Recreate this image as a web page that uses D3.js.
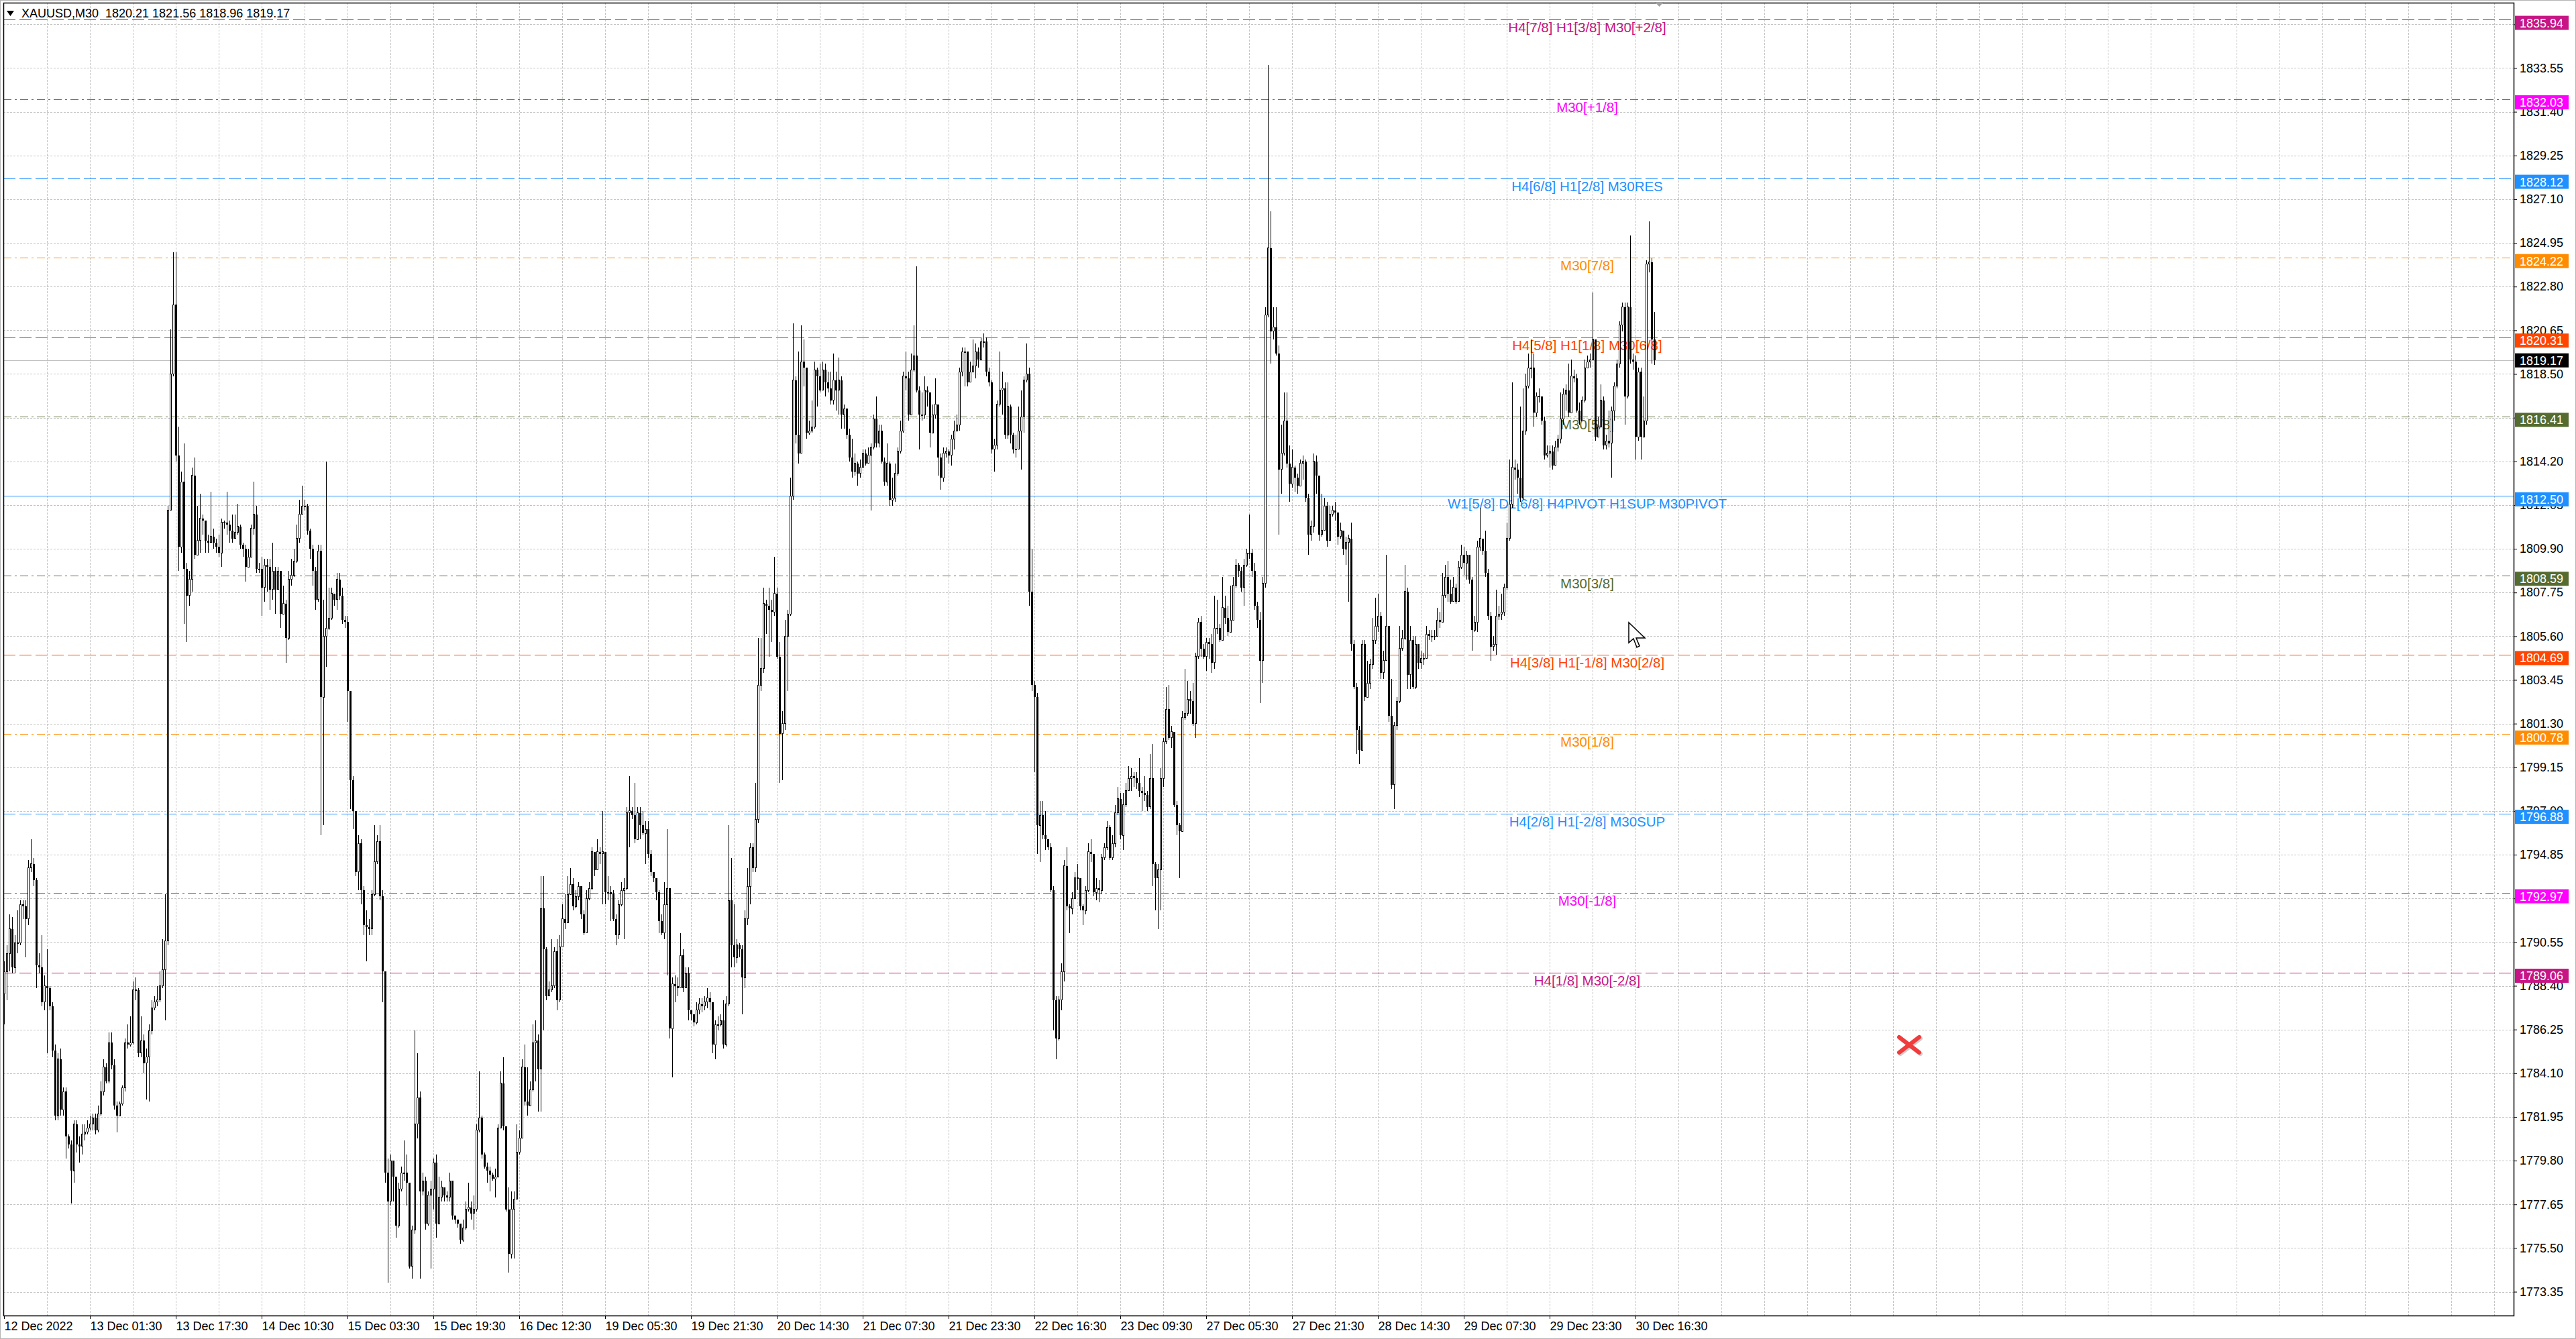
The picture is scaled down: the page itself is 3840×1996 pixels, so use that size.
<!DOCTYPE html>
<html>
<head>
<meta charset="utf-8">
<script src="https://cdn.jsdelivr.net/npm/d3@7"></script>
<style>
    body { margin: 0; background: #ffffff; overflow: hidden; }
    text { font-family: "Liberation Sans", Arial, sans-serif; }
</style>
</head>
<body>
<svg id="chart" width="3840" height="1996"></svg>
<script>
var symbol = "XAUUSD,M30";
var firstOpen = 1788.0;

// M30 candles, 12 Dec 2022 .. 30 Dec 2022
var closes = [
    1789.1,1790.0,1791.2,1789.3,1790.5,1790.5,1792.4,1792.3,1791.7,1794.2,
    1794.4,1793.6,1789.4,1789.3,1787.6,1788.4,1788.3,1787.4,1785.2,1782.0,
    1784.8,1782.3,1783.2,1781.0,1780.6,1779.3,1781.6,1780.6,1780.5,1781.1,
    1781.2,1781.4,1781.6,1781.9,1781.3,1782.1,1783.2,1784.4,1783.7,1785.6,
    1784.5,1782.5,1782.0,1782.6,1783.4,1785.6,1785.5,1785.6,1788.2,1788.2,
    1785.1,1785.7,1784.6,1784.9,1786.2,1787.3,1787.6,1787.7,1788.4,1789.2,
    1790.6,1811.8,1818.5,1821.9,1814.5,1810.0,1813.2,1808.9,1807.6,1808.4,
    1813.5,1809.6,1810.3,1811.4,1811.3,1810.3,1810.2,1810.5,1810.2,1810.0,
    1809.7,1811.2,1811.2,1811.1,1810.8,1810.4,1810.7,1811.0,1810.1,1809.9,
    1809.0,1809.5,1810.9,1811.6,1808.9,1808.9,1808.0,1809.1,1809.0,1807.9,
    1808.8,1807.9,1808.8,1806.7,1807.2,1805.5,1808.4,1808.6,1809.3,1810.4,
    1811.6,1812.0,1812.0,1810.8,1809.9,1808.8,1807.4,1809.8,1802.6,1805.6,
    1806.0,1806.5,1807.7,1807.4,1808.4,1807.6,1806.4,1806.3,1802.9,1798.5,
    1797.0,1794.0,1795.4,1793.1,1791.4,1791.3,1791.2,1792.9,1794.5,1795.5,
    1792.8,1789.1,1779.2,1777.8,1779.8,1779.0,1776.6,1778.4,1779.2,1779.2,
    1778.7,1774.6,1776.4,1781.6,1782.9,1778.3,1778.8,1776.7,1778.1,
    1778.4,1779.7,1776.7,1778.0,1778.5,1778.1,1778.0,1778.8,1777.1,1776.9,
    1776.7,1775.9,1776.5,1777.4,1777.5,1777.2,1777.4,1781.3,1781.9,1780.1,
    1779.5,1779.3,1779.1,1778.9,1779.0,1781.4,1783.6,1781.5,1777.4,1775.2,
    1777.4,1777.9,1780.2,1780.9,1784.4,1782.7,1782.5,1783.3,1785.6,1785.7,
    1784.3,1792.2,1790.2,1787.9,1788.2,1788.4,1790.1,1787.7,1790.3,1791.7,
    1791.5,1792.9,1793.4,1792.3,1792.8,1793.3,1791.9,1791.0,1792.7,1793.2,
    1795.0,1794.1,1795.0,1794.9,1795.0,1793.0,1793.0,1792.9,1791.7,1790.9,
    1792.4,1793.1,1793.2,1796.9,1797.0,1796.8,1795.6,1796.9,1796.3,1795.9,
    1796.1,1794.9,1794.0,1793.7,1793.0,1791.6,1791.0,1792.4,1793.2,1786.3,
    1788.5,1788.4,1788.3,1789.9,1788.3,1789.0,1787.2,1787.0,1786.6,1787.2,
    1787.5,1787.4,1787.6,1787.8,1787.6,1785.5,1786.5,1786.5,1786.7,1785.5,
    1787.5,1792.6,1790.4,1789.8,1790.4,1790.2,1788.8,1791.7,1793.3,1795.2,
    1794.2,1796.6,1803.2,1804.0,1807.2,1807.1,1806.9,1806.8,1807.7,1804.6,
    1800.8,1801.3,1805.6,1806.7,1812.5,1818.2,1815.5,1814.6,1819.1,1818.8,
    1815.6,1815.7,1815.9,1818.7,1818.4,1817.7,1818.7,1818.1,1817.8,1817.2,
    1818.2,1817.7,1818.2,1816.5,1816.8,
    1815.5,1814.4,1813.7,1814.1,1813.6,1813.9,1814.6,1814.1,1814.5,1814.9,
    1816.3,1815.1,1815.7,1814.2,1813.2,1814.1,1812.3,1812.4,1813.6,1814.7,
    1815.7,1818.4,1818.3,1816.5,1818.7,1819.4,1817.7,1816.5,1816.5,1817.7,
    1817.6,1815.6,1816.5,1817.0,1814.4,1813.4,1814.6,1814.7,1814.5,1815.3,
    1815.7,1816.0,1818.6,1819.6,1819.6,1818.1,1818.6,1818.9,1819.6,1819.2,
    1820.1,1820.1,1818.6,1818.1,1814.8,1815.0,1817.0,1817.7,1817.8,1815.5,
    1816.9,1815.5,1814.8,1814.8,1815.7,1816.4,1818.2,1818.5,1807.8,1803.2,
    1802.6,1796.3,1796.8,1795.8,1795.6,1795.2,1793.1,1787.7,1785.8,1787.7,
    1789.1,1794.3,1792.3,1792.2,1792.7,1793.7,1793.7,1792.3,1792.1,1793.1,
    1795.0,1794.9,1793.0,1793.2,1793.1,1794.7,1795.2,1796.2,1794.7,1795.4,
    1796.9,1797.6,1795.8,1797.3,1798.0,1798.6,1798.7,1798.6,1798.4,1798.0,
    1797.9,1797.8,1797.2,1798.6,1794.4,1793.7,1794.1,1798.6,1800.4,1802.0,
    1800.6,1800.9,1797.3,1796.3,1796.0,1801.6,1801.8,1802.5,1802.4,1801.3,
    1804.6,1806.3,1805.0,1804.6,1805.3,1805.2,1804.3,1806.0,1806.0,1805.4,
    1807.0,1806.5,1805.8,1806.4,1808.1,1809.1,1808.8,1808.0,1809.1,1809.7,
    1809.7,1808.8,1807.1,1806.4,
    1804.4,1808.2,1821.4,1824.7,1820.6,1820.8,1819.5,1813.8,1814.6,1816.2,
    1814.1,1813.1,1813.9,1813.4,1813.0,1814.1,1814.2,1812.4,1810.6,1811.0,
    1814.2,1813.5,1810.6,1810.8,1812.0,1810.3,1811.6,1811.8,1811.7,1810.5,
    1810.8,1809.9,1810.2,1810.4,1805.2,1803.1,1801.0,1800.0,1805.2,1802.6,
    1803.3,1804.2,1805.4,1806.1,1806.6,1803.8,1804.4,1806.1,1801.7,1798.3,
    1801.2,1802.4,1805.0,1805.5,1807.8,1803.7,1805.4,1803.1,1805.2,1804.3,
    1804.5,1804.5,1805.7,1805.6,1805.6,1805.6,1806.4,1806.3,1807.6,1808.5,
    1807.7,1807.3,1808.0,1807.3,1809.0,1809.6,1809.2,1809.6,1808.4,1805.9,
    1806.3,1810.0,1810.4,1809.8,1808.7,1806.6,1805.1,1805.2,1806.6,1806.7,
    1806.8,1808.0,1810.4,1812.1,1813.9,1813.8,1813.4,1812.4,1815.7,1817.9,
    1818.8,1818.8,1816.6,1817.4,1817.4,1816.2,1814.5,1814.6,1814.7,1814.0,
    1814.9,1815.3,1816.3,1817.5,1817.7,1816.6,1818.4,1818.3,1816.7,1816.2,
    1817.2,1818.8,1819.1,1819.2,1820.2,1815.4,1815.9,1817.2,1815.0,1815.2,
    1815.1,1816.7,1817.9,1819.0,1820.9,1821.8,1817.4,1821.8,1819.2,1819.1,
    1815.4,1818.6,1815.4,1816.2,1823.9,1824.0,1820.21,1819.17
];

var highs = [
    1789.6,1790.4,1791.9,1791.8,1790.9,1792.1,1792.6,1792.6,1792.6,1794.6,
    1795.6,1794.7,1793.7,1790.0,1790.9,1788.9,1790.2,1788.4,1787.6,1785.5,
    1785.1,1785.3,1783.4,1783.4,1781.1,1780.8,1781.8,1781.8,1781.0,1781.6,
    1781.6,1781.8,1782.0,1782.1,1782.1,1782.5,1783.7,1784.8,1784.6,1786.1,
    1786.1,1784.8,1782.7,1782.7,1783.5,1785.8,1786.5,1786.9,1788.6,1788.8,
    1788.3,1786.9,1786.0,1785.3,1786.5,1787.7,1787.9,1788.4,1789.1,1790.7,
    1792.9,1812.0,1820.7,1824.5,1824.5,1815.9,1813.7,1815.1,1809.2,1808.8,
    1813.9,1814.4,1812.0,1812.6,1811.6,1811.3,1810.6,1812.7,1810.9,1810.4,
    1810.6,1811.4,1811.3,1812.7,1811.3,1811.6,1811.6,1812.1,1811.1,1810.2,
    1810.1,1809.9,1811.1,1813.2,1812.0,1809.2,1809.5,1809.4,1809.4,1809.4,
    1810.2,1809.0,1809.0,1808.8,1808.1,1807.4,1808.8,1809.4,1809.9,1811.1,
    1812.3,1813.0,1812.3,1812.1,1810.9,1810.1,1809.0,1810.1,1810.1,1807.4,
    1814.2,1808.0,1808.0,1807.6,1808.7,1808.7,1808.0,1806.6,1806.6,1802.9,
    1798.7,1797.0,1795.8,1795.6,1793.3,1792.1,1791.7,1793.1,1796.3,1795.8,
    1796.3,1793.1,1789.1,1779.9,1780.1,1779.5,1778.5,1778.7,1779.5,1780.8,
    1780.1,1778.3,1776.6,1786.2,1785.1,1783.2,1779.2,1779.0,1778.3,
    1778.8,1779.9,1780.1,1779.0,1778.8,1778.5,1778.3,1779.2,1778.1,1777.1,
    1776.9,1776.7,1776.9,1777.8,1778.7,1777.8,1778.1,1781.6,1784.2,1782.0,
    1780.2,1779.7,1779.5,1779.2,1779.4,1781.6,1784.2,1784.9,1781.5,1778.5,
    1778.3,1778.3,1781.6,1781.3,1784.8,1785.5,1784.4,1783.7,1786.5,1786.7,
    1786.0,1793.8,1793.8,1790.3,1788.6,1790.7,1790.3,1790.7,1790.9,1792.4,
    1792.9,1793.8,1794.2,1793.7,1793.1,1793.5,1792.9,1792.1,1793.1,1793.5,
    1795.2,1794.6,1795.6,1795.2,1797.0,1794.9,1793.8,1793.3,1793.1,1791.9,
    1792.6,1793.5,1793.7,1797.2,1798.7,1797.2,1798.4,1797.2,1797.2,1797.0,
    1796.5,1796.5,1795.1,1794.0,1793.7,1793.1,1791.9,1793.5,1796.1,1793.1,
    1788.8,1788.9,1788.8,1791.0,1790.2,1789.3,1789.3,1787.2,1787.0,1787.6,
    1787.8,1787.8,1787.9,1788.3,1788.1,1787.4,1786.7,1786.9,1787.0,1787.7,
    1787.9,1796.3,1794.7,1792.4,1790.7,1790.5,1790.4,1792.1,1794.2,1795.4,
    1795.4,1798.4,1805.5,1805.5,1808.0,1807.4,1808.0,1807.4,1809.5,1808.0,
    1805.3,1801.9,1806.4,1806.9,1813.4,1821.0,1818.4,1819.6,1820.9,1820.2,
    1818.2,1816.2,1817.2,1819.1,1818.8,1819.0,1819.1,1819.0,1818.6,1818.6,
    1819.5,1818.6,1819.3,1818.4,1817.0,
    1816.7,1815.8,1815.3,1814.6,1814.2,1814.3,1814.8,1814.8,1814.9,1815.1,
    1816.5,1817.4,1816.0,1816.0,1814.4,1815.1,1814.2,1813.4,1814.1,1814.9,
    1816.2,1818.6,1819.6,1818.6,1819.5,1820.9,1823.8,1817.9,1817.6,1818.4,
    1817.9,1817.0,1817.0,1818.3,1816.2,1814.6,1814.9,1814.9,1814.8,1815.5,
    1816.2,1816.5,1818.8,1819.8,1819.8,1819.6,1819.1,1820.2,1820.0,1819.8,
    1820.3,1820.5,1820.3,1818.8,1818.2,1815.3,1817.2,1819.6,1818.6,1818.1,
    1818.1,1817.0,1815.6,1815.5,1816.9,1817.7,1818.4,1820.0,1818.8,1809.9,
    1803.4,1802.8,1797.5,1797.5,1797.0,1795.6,1795.4,1793.3,1787.9,1787.9,
    1789.5,1794.6,1795.2,1792.4,1793.0,1794.0,1794.4,1793.7,1792.4,1793.3,
    1795.4,1795.6,1794.4,1793.7,1793.6,1794.9,1795.4,1796.5,1796.3,1795.8,
    1797.3,1798.2,1797.9,1797.9,1798.4,1799.2,1799.1,1798.9,1798.9,1799.6,
    1798.2,1798.7,1798.0,1799.8,1800.3,1794.5,1794.4,1799.1,1800.6,1803.1,
    1803.2,1801.2,1800.5,1797.5,1796.4,1801.9,1804.0,1803.4,1802.9,1803.3,
    1804.8,1806.5,1806.6,1805.2,1805.5,1805.5,1805.7,1807.6,1807.4,1806.2,
    1808.5,1807.6,1807.1,1808.1,1808.5,1809.4,1809.2,1809.0,1809.4,1809.9,
    1811.6,1809.9,1809.2,1807.3,
    1806.8,1808.5,1821.8,1833.7,1826.5,1821.8,1821.8,1819.9,1816.0,1817.6,
    1817.6,1815.0,1814.8,1814.0,1813.6,1814.3,1814.5,1814.3,1812.6,1811.3,
    1814.6,1814.5,1813.4,1812.6,1812.4,1812.2,1812.0,1812.0,1812.2,1811.7,
    1811.2,1810.6,1810.5,1810.6,1811.2,1805.4,1803.3,1801.2,1805.4,1805.4,
    1804.4,1804.5,1806.5,1807.5,1807.7,1806.8,1804.9,1809.6,1805.7,1803.5,
    1801.4,1802.6,1806.1,1805.9,1809.1,1808.0,1806.1,1805.6,1805.6,1805.1,
    1804.9,1804.8,1806.1,1805.9,1805.9,1805.9,1807.0,1806.8,1808.7,1809.1,
    1809.3,1808.4,1808.5,1808.2,1809.3,1810.1,1810.0,1809.8,1809.6,1808.5,
    1806.6,1810.3,1811.9,1810.3,1810.8,1808.9,1806.8,1805.6,1807.9,1807.1,
    1807.7,1808.2,1811.2,1814.3,1818.1,1814.3,1814.1,1816.9,1817.8,1818.5,
    1819.5,1820.2,1819.5,1817.6,1817.8,1817.4,1816.4,1815.0,1815.0,1815.0,
    1815.2,1815.5,1817.6,1817.8,1818.0,1819.0,1819.2,1818.7,1818.5,1817.1,
    1817.4,1819.2,1819.4,1819.5,1822.5,1819.7,1816.4,1818.0,1817.4,1815.5,
    1816.7,1816.9,1818.1,1819.2,1821.1,1822.0,1822.0,1822.0,1825.3,1819.5,
    1819.4,1818.8,1818.8,1817.4,1824.1,1826.0,1824.2,1821.56
];

var lows = [
    1786.5,1787.7,1789.1,1789.0,1789.0,1790.0,1790.4,1791.7,1789.8,1791.4,
    1794.0,1793.3,1788.3,1789.0,1787.4,1787.2,1785.1,1787.2,1784.9,1781.8,
    1781.8,1782.0,1782.0,1779.9,1780.4,1777.7,1778.7,1780.2,1779.7,1780.1,
    1780.8,1781.1,1781.3,1781.3,1781.1,1781.2,1782.0,1783.0,1783.6,1783.6,
    1784.3,1782.3,1781.2,1782.0,1782.5,1783.2,1785.3,1785.4,1785.5,1787.7,
    1784.9,1784.9,1784.1,1782.8,1782.7,1786.0,1787.2,1787.4,1787.6,1788.3,
    1786.7,1790.4,1812.0,1818.4,1814.2,1808.8,1809.7,1806.2,1805.3,1807.1,
    1807.8,1809.4,1809.7,1809.7,1810.6,1809.7,1809.7,1810.2,1809.9,1809.7,
    1809.5,1809.0,1810.9,1810.6,1810.2,1810.2,1810.5,1810.6,1809.9,1809.5,
    1808.3,1809.2,1809.6,1810.6,1808.7,1808.7,1806.6,1807.3,1807.8,1806.9,
    1807.4,1806.7,1808.5,1806.0,1806.7,1804.3,1805.4,1808.1,1808.5,1809.2,
    1810.2,1811.6,1811.8,1810.6,1809.4,1808.1,1806.9,1807.3,1795.8,1796.3,
    1804.1,1805.9,1806.4,1807.1,1806.9,1807.4,1806.2,1806.0,1801.4,1797.1,
    1796.1,1793.8,1793.1,1792.4,1790.9,1789.6,1790.9,1790.9,1792.8,1794.4,
    1792.6,1787.6,1778.7,1773.8,1777.6,1777.8,1776.0,1776.5,1778.3,1778.8,
    1777.6,1774.5,1774.0,1776.2,1780.9,1774.0,1778.1,1776.4,1776.6,
    1774.5,1777.4,1776.0,1776.7,1777.8,1777.8,1777.8,1777.8,1776.9,1776.7,
    1776.5,1775.7,1775.8,1776.4,1777.3,1776.9,1776.4,1777.3,1781.2,1779.9,
    1779.4,1778.7,1778.3,1778.8,1778.0,1779.1,1781.4,1781.3,1777.3,1774.3,
    1775.0,1775.0,1778.1,1780.1,1780.9,1782.5,1782.0,1782.6,1783.2,1783.7,
    1782.2,1782.2,1786.2,1787.7,1787.9,1788.1,1788.3,1787.2,1787.6,1790.4,
    1791.2,1791.7,1792.9,1792.1,1792.2,1792.6,1791.7,1790.9,1791.0,1792.6,
    1793.1,1793.8,1794.6,1794.4,1792.4,1792.4,1792.6,1791.6,1791.6,1790.4,
    1790.7,1792.3,1790.7,1793.1,1795.2,1796.6,1795.4,1796.6,1795.6,1795.8,
    1794.4,1794.7,1793.8,1793.5,1792.6,1791.0,1790.9,1790.7,1788.9,1785.8,
    1783.9,1787.6,1787.9,1788.4,1788.1,1788.3,1786.7,1786.7,1786.4,1786.5,
    1787.0,1787.1,1787.2,1787.3,1787.2,1785.1,1784.8,1786.2,1786.4,1785.3,
    1785.4,1787.4,1789.3,1789.3,1789.5,1789.8,1787.0,1788.3,1791.4,1792.4,
    1794.0,1794.0,1796.4,1802.9,1803.8,1805.7,1804.6,1805.3,1806.6,1804.5,
    1798.4,1798.5,1801.0,1802.9,1806.6,1812.3,1815.1,1814.1,1815.1,1817.9,
    1815.3,1815.5,1815.6,1815.8,1816.9,1817.6,1818.4,1817.4,1817.6,1817.0,
    1817.0,1816.7,1816.5,1815.8,1815.8,
    1815.3,1814.2,1813.4,1813.5,1813.0,1813.4,1813.9,1814.0,1814.1,1811.8,
    1814.8,1814.9,1814.9,1814.1,1813.0,1813.0,1812.0,1812.0,1812.2,1813.5,
    1814.6,1815.6,1817.7,1816.2,1816.5,1818.6,1817.6,1814.8,1816.2,1816.3,
    1816.9,1814.9,1815.8,1816.3,1813.5,1812.8,1813.2,1814.4,1814.1,1814.0,
    1814.8,1815.8,1815.7,1818.4,1817.9,1817.9,1818.3,1818.6,1818.3,1818.8,
    1819.5,1819.8,1818.4,1817.9,1814.6,1813.7,1814.8,1816.9,1816.5,1815.3,
    1815.3,1815.1,1814.6,1814.4,1814.8,1813.8,1815.6,1818.1,1807.1,1802.9,
    1798.9,1794.9,1794.5,1795.6,1795.1,1795.1,1793.0,1786.2,1784.8,1785.7,
    1787.2,1788.6,1792.1,1791.0,1791.9,1792.8,1793.1,1792.1,1791.4,1791.9,
    1793.0,1794.5,1792.8,1792.6,1792.5,1792.9,1794.6,1795.1,1794.6,1794.6,
    1795.2,1796.8,1795.6,1795.1,1797.2,1798.4,1798.0,1798.2,1798.1,1797.7,
    1797.0,1797.5,1797.0,1797.1,1793.3,1792.1,1791.2,1792.1,1798.2,1800.3,
    1800.5,1800.1,1797.2,1795.8,1793.7,1800.3,1801.5,1801.7,1801.8,1801.2,
    1800.6,1804.5,1804.6,1804.5,1803.9,1804.5,1803.8,1804.0,1805.7,1805.3,
    1805.9,1806.2,1805.6,1806.2,1806.4,1808.0,1808.5,1807.8,1807.1,1809.0,
    1809.4,1808.5,1806.9,1806.0,
    1802.3,1803.3,1808.0,1821.3,1819.0,1820.2,1819.4,1810.6,1812.6,1814.5,
    1813.9,1812.2,1812.9,1812.7,1812.6,1813.1,1813.3,1812.2,1809.6,1810.3,
    1810.7,1812.6,1810.3,1810.5,1811.0,1810.0,1811.2,1811.5,1811.3,1810.1,
    1810.4,1809.6,1809.1,1807.3,1804.9,1803.0,1799.8,1799.3,1800.0,1802.4,
    1802.6,1803.0,1804.0,1805.2,1805.8,1803.5,1803.5,1804.4,1801.4,1798.1,
    1797.1,1801.0,1802.3,1804.9,1805.4,1803.0,1803.0,1803.0,1803.0,1804.0,
    1804.0,1804.2,1804.5,1805.4,1805.3,1805.4,1805.6,1806.0,1806.3,1807.5,
    1807.3,1807.2,1807.5,1807.2,1807.3,1808.9,1808.6,1808.4,1808.2,1804.9,
    1805.8,1805.8,1809.8,1809.6,1808.5,1806.4,1804.4,1804.9,1804.7,1806.4,
    1806.4,1806.6,1807.9,1810.3,1811.9,1813.3,1812.6,1812.2,1812.3,1815.5,
    1817.8,1818.3,1815.9,1816.4,1817.1,1816.0,1814.3,1814.4,1813.9,1813.8,
    1814.6,1814.7,1815.1,1816.0,1816.7,1816.4,1817.6,1818.1,1816.6,1816.0,
    1816.2,1817.1,1818.8,1818.8,1819.2,1815.2,1815.5,1816.2,1814.8,1814.8,
    1814.9,1813.4,1816.2,1817.8,1818.8,1820.6,1816.0,1817.3,1819.0,1818.7,
    1814.3,1815.2,1814.3,1815.4,1816.0,1823.5,1819.0,1818.96
];

var barsPerLabel = 32;
var timeLabels = [
    "12 Dec 2022", "13 Dec 01:30", "13 Dec 17:30", "14 Dec 10:30", "15 Dec 03:30",
    "15 Dec 19:30", "16 Dec 12:30", "19 Dec 05:30", "19 Dec 21:30", "20 Dec 14:30",
    "21 Dec 07:30", "21 Dec 23:30", "22 Dec 16:30", "23 Dec 09:30", "27 Dec 05:30",
    "27 Dec 21:30", "28 Dec 14:30", "29 Dec 07:30", "29 Dec 23:30", "30 Dec 16:30"
];

var priceTicks = [
    1773.35, 1775.50, 1777.65, 1779.80, 1781.95, 1784.10, 1786.25, 1788.40, 1790.55, 1792.70,
    1794.85, 1797.00, 1799.15, 1801.30, 1803.45, 1805.60, 1807.75, 1809.90, 1812.05, 1814.20,
    1816.35, 1818.50, 1820.65, 1822.80, 1824.95, 1827.10, 1829.25, 1831.40, 1833.55, 1835.70
];

// murrey math levels
var levelPrices = [1835.94, 1832.03, 1828.12, 1824.22, 1820.31, 1816.41, 1812.50,
                   1808.59, 1804.69, 1800.78, 1796.88, 1792.97, 1789.06];
var levelNames = [
    "H4[7/8] H1[3/8] M30[+2/8]",
    "M30[+1/8]",
    "H4[6/8] H1[2/8] M30RES",
    "M30[7/8]",
    "H4[5/8] H1[1/8] M30[6/8]",
    "M30[5/8]",
    "W1[5/8] D1[6/8] H4PIVOT H1SUP M30PIVOT",
    "M30[3/8]",
    "H4[3/8] H1[-1/8] M30[2/8]",
    "M30[1/8]",
    "H4[2/8] H1[-2/8] M30SUP",
    "M30[-1/8]",
    "H4[1/8] M30[-2/8]"
];

// look of each level line, same order as levelPrices
var levelColors = ["#c71585", "#ff00ff", "#1e90ff", "#ff8c00", "#ff4500", "#556b2f", "#1e90ff",
                   "#556b2f", "#ff4500", "#ff8c00", "#1e90ff", "#ff00ff", "#c71585"];
var levelDash = ["18,6", "12,5,3,5", "18,6", "12,5,3,5", "18,6", "12,5,3,5", null,
                 "12,5,3,5", "18,6", "12,5,3,5", "18,6", "12,5,3,5", "18,6"];

var W = 3840, H = 1996;
var plotL = 5, plotT = 4, plotR = 3747, plotB = 1961;
var svg = d3.select("#chart");

var x = d3.scaleLinear().domain([0, (plotR - 6) / 4]).range([6, plotR]);
var y = d3.scaleLinear().domain([1772.18, 1836.767]).range([plotB, plotT]);

var bars = closes.map(function (c, i) {
    var o = i === 0 ? firstOpen : closes[i - 1];
    return {i: i, o: o, c: c, h: Math.max(highs[i], o, c), l: Math.min(lows[i], o, c)};
});

// window frame
svg.append("rect").attr("x", 0.5).attr("y", 0.5).attr("width", W - 1).attr("height", H - 1)
    .attr("fill", "#ffffff").attr("stroke", "#b4b4b4");

// grid
var grid = svg.append("g").attr("stroke", "#c4c4c4").attr("stroke-dasharray", "3,2");
grid.selectAll("line.h").data(priceTicks).enter().append("line")
    .attr("x1", plotL).attr("x2", plotR)
    .attr("y1", function (d) { return Math.round(y(d)) + 0.5; })
    .attr("y2", function (d) { return Math.round(y(d)) + 0.5; });
grid.selectAll("line.v").data(d3.range(16, (plotR - 6) / 4, 16)).enter().append("line")
    .attr("y1", plotT).attr("y2", plotB)
    .attr("x1", function (d) { return Math.round(x(d)) + 0.5; })
    .attr("x2", function (d) { return Math.round(x(d)) + 0.5; });

// level lines and their names
var lv = svg.append("g");
levelPrices.forEach(function (p, i) {
    var yy = Math.round(y(p)) + 0.5;
    lv.append("line").attr("x1", plotL).attr("x2", plotR).attr("y1", yy).attr("y2", yy)
        .attr("stroke", levelColors[i]).attr("stroke-width", 1.2)
        .attr("stroke-dasharray", levelDash[i]);
    lv.append("text").attr("x", 2366).attr("y", yy + 18)
        .attr("text-anchor", "middle").attr("font-size", 20.5)
        .attr("fill", levelColors[i]).text(levelNames[i]);
});

// bid line
var lastPrice = closes[closes.length - 1];
svg.append("line").attr("x1", plotL).attr("x2", plotR)
    .attr("y1", Math.round(y(lastPrice)) + 0.5).attr("y2", Math.round(y(lastPrice)) + 0.5)
    .attr("stroke", "#c0c0c0");

// candles
var cg = svg.append("g").attr("shape-rendering", "crispEdges");
cg.selectAll("line").data(bars).enter().append("line")
    .attr("x1", function (d) { return x(d.i) + 0.5; })
    .attr("x2", function (d) { return x(d.i) + 0.5; })
    .attr("y1", function (d) { return y(d.h); })
    .attr("y2", function (d) { return y(d.l); })
    .attr("stroke", "#000000");
cg.selectAll("rect").data(bars).enter().append("rect")
    .attr("x", function (d) { return d.c >= d.o ? x(d.i) - 0.5 : x(d.i) - 1; })
    .attr("width", function (d) { return d.c >= d.o ? 2 : 3; })
    .attr("y", function (d) { return y(Math.max(d.o, d.c)); })
    .attr("height", function (d) { return Math.max(1, Math.abs(y(d.o) - y(d.c))); })
    .attr("fill", function (d) { return d.c >= d.o ? "#ffffff" : "#000000"; })
    .attr("stroke", function (d) { return d.c >= d.o ? "#000000" : "none"; });

// plot frame
svg.append("rect").attr("x", plotL + 0.5).attr("y", plotT + 0.5)
    .attr("width", plotR - plotL).attr("height", plotB - plotT)
    .attr("fill", "none").attr("stroke", "#000000").attr("stroke-width", 1.5);

// price axis
var yAxis = d3.axisRight(y).tickValues(priceTicks).tickSize(5).tickPadding(4)
    .tickFormat(d3.format(".2f"));
var ya = svg.append("g").attr("transform", "translate(" + plotR + ",0)").call(yAxis);
ya.select(".domain").remove();
ya.selectAll("text").attr("font-size", 18).attr("font-family", "Liberation Sans, Arial, sans-serif")
    .attr("fill", "#000000");
ya.selectAll("line").attr("stroke", "#000000");

// time axis
var xAxis = d3.axisBottom(x)
    .tickValues(timeLabels.map(function (t, i) { return i * barsPerLabel; }))
    .tickSize(5).tickPadding(4)
    .tickFormat(function (d) { return timeLabels[d / barsPerLabel]; });
var xa = svg.append("g").attr("transform", "translate(0," + plotB + ")").call(xAxis);
xa.select(".domain").remove();
xa.selectAll("text").attr("font-size", 18).attr("font-family", "Liberation Sans, Arial, sans-serif")
    .attr("fill", "#000000").attr("text-anchor", "start");
xa.selectAll("line").attr("stroke", "#000000");

// level price tags on the axis
levelPrices.forEach(function (p, i) {
    var yy = y(p);
    svg.append("rect").attr("x", 3749).attr("y", yy - 5.5).attr("width", 80).attr("height", 21)
        .attr("fill", levelColors[i]);
    svg.append("text").attr("x", 3756).attr("y", yy + 11.5).attr("font-size", 18)
        .attr("fill", "#ffffff").text(d3.format(".2f")(p));
});
svg.append("rect").attr("x", 3749).attr("y", y(lastPrice) - 10.5).attr("width", 80).attr("height", 21)
    .attr("fill", "#000000");
svg.append("text").attr("x", 3756).attr("y", y(lastPrice) + 6.5).attr("font-size", 18)
    .attr("fill", "#ffffff").text(d3.format(".2f")(lastPrice));

// header
var last = bars[bars.length - 1];
svg.append("path").attr("d", "M10,16 L21,16 L15.5,24 Z").attr("fill", "#000000");
svg.append("text").attr("x", 32).attr("y", 26).attr("font-size", 18).attr("fill", "#000000")
    .style("white-space", "pre")
    .text(symbol + "  " + [last.o, last.h, last.l, last.c].map(d3.format(".2f")).join(" "));

// chart shift marker
svg.append("path").attr("d", "M2467,3 L2480,3 L2473.5,10 Z").attr("fill", "#a0a0a0");

// mouse pointer and a red cross object
svg.append("path").attr("transform", "translate(2428,928)")
    .attr("d", "M0,0 L0,30 L7,24 L12,37 L16,35 L11,23 L24,23 Z")
    .attr("fill", "#ffffff").attr("stroke", "#000000").attr("stroke-width", 1.5);
var cross = svg.append("g").attr("stroke-linecap", "round");
[[2, "rgba(120,120,120,0.35)"], [0, "#f03c3c"]].forEach(function (s) {
    cross.append("line").attr("x1", 2831 + s[0]).attr("y1", 1546 + s[0]).attr("x2", 2861 + s[0]).attr("y2", 1569 + s[0])
        .attr("stroke", s[1]).attr("stroke-width", 6);
    cross.append("line").attr("x1", 2831 + s[0]).attr("y1", 1569 + s[0]).attr("x2", 2861 + s[0]).attr("y2", 1546 + s[0])
        .attr("stroke", s[1]).attr("stroke-width", 6);
});
</script>
</body>
</html>
